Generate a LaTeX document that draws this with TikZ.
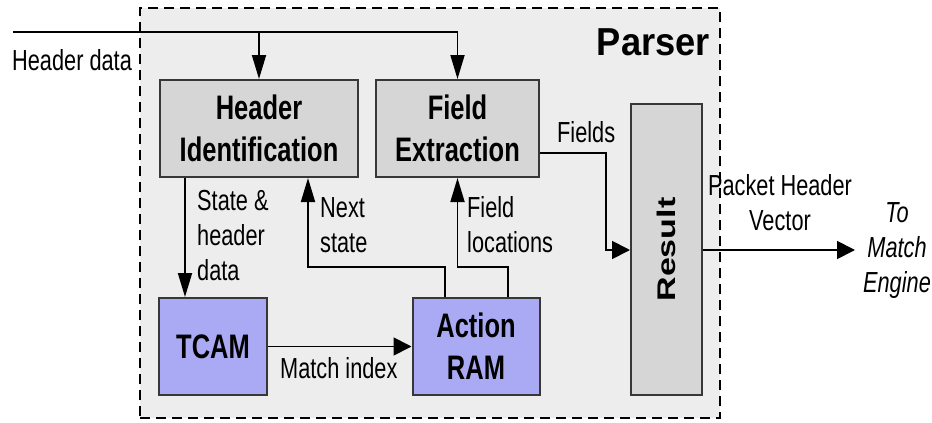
\documentclass[tikz,border=0pt]{standalone}
\usepackage{graphicx}
\usepackage{fontspec}
\setmainfont{Liberation Sans}[FakeStretch=0.75]
\newfontfamily\titlefont{Liberation Sans}[FakeStretch=0.93]
\newfontfamily\uprightfont{Liberation Sans}
\usetikzlibrary{arrows.meta}

\definecolor{parserbg}{RGB}{237,237,237}
\definecolor{unitgray}{RGB}{214,214,214}
\definecolor{unitblue}{RGB}{170,170,244}
\definecolor{edgegray}{RGB}{55,55,55}

\begin{document}
\begin{tikzpicture}[x=1pt,y=-1pt,
  unit/.style={draw=edgegray, line width=2pt, inner sep=0pt, align=center,
    font=\bfseries\fontsize{34}{42}\selectfont},
  grayunit/.style={unit, fill=unitgray},
  blueunit/.style={unit, fill=unitblue},
  wire/.style={line width=1.8pt, black},
  downarrow/.style={wire, -{Triangle[length=24pt,width=14pt]}},
  sidearrow/.style={wire, -{Triangle[length=18pt,width=18pt]}},
  lbl/.style={inner sep=0pt, align=left, font=\fontsize{29}{35}\selectfont},
]
\useasboundingbox (0,0) rectangle (932,423);

% parser region
\node[draw=black, fill=parserbg, line width=1.8pt, dash pattern=on 10pt off 6pt,
      minimum width=580pt, minimum height=410pt, inner sep=0pt] (parser) at (430,213) {};
\node[anchor=base east, inner sep=0pt,
      font=\titlefont\bfseries\fontsize{39}{45}\selectfont] (title) at (710,55) {Parser};

% processing units
\node[grayunit, minimum width=198pt, minimum height=97pt] (hid) at (259,128.5) {Header\\Identification};
\node[grayunit, minimum width=163pt, minimum height=97pt] (fex) at (457.5,128.5) {Field\\Extraction};
\node[grayunit, minimum width=71pt, minimum height=291pt] (res) at (666.5,249.5) {};
\node[rotate=90, inner sep=0pt] (reslabel) at (res.center)
     {\scalebox{1}[0.75]{\uprightfont\bfseries\fontsize{34}{40}\selectfont Result}};
\node[blueunit, minimum width=108pt, minimum height=97pt] (tcam) at (213,346.5) {TCAM};
\node[blueunit, minimum width=127pt, minimum height=97pt] (aram) at (476,346.5) {Action\\RAM};

% header data input
\coordinate (hdin) at (13,32);
\coordinate (hdturn) at (457.5,32);
\coordinate (hdtap) at (259,32);
\draw[downarrow] (hdin) -- (hdturn) -- (fex.north);
\draw[downarrow] (hdtap) -- (hid.north);
\node[lbl, anchor=base west] (hdlabel) at (12,70) {Header data};

% header identification to TCAM
\draw[downarrow] ([xshift=-74pt]hid.south) -- ([xshift=-74pt]hid.south |- tcam.north);
\node[lbl, anchor=base west] (stlabel) at (197,280) {State \&\\header\\data};

% TCAM to action RAM
\draw[sidearrow] (tcam.east) -- (aram.west);
\node[lbl, anchor=base west] (milabel) at (280,378) {Match index};

% action RAM feedback
\coordinate (nsturn) at (308,267);
\draw[downarrow] ([xshift=-31pt]aram.north) |- (nsturn) -- ([xshift=49pt]hid.south);
\node[lbl, anchor=base west] (nslabel) at (320,252) {Next\\state};

\coordinate (flturn) at (457.5,267);
\draw[downarrow] ([xshift=32pt]aram.north) |- (flturn) -- (fex.south);
\node[lbl, anchor=base west] (fllabel) at (467,252) {Field\\locations};

% fields into result
\coordinate (fdturn) at (606,250);
\draw[sidearrow] ([yshift=-24.5pt]fex.east) -| (fdturn) -- (res.west |- fdturn);
\node[lbl, anchor=base west] (fdlabel) at (557,142) {Fields};

% output
\coordinate (out) at (855,250);
\draw[sidearrow] (res.east |- out) -- (out);
\node[lbl, anchor=base, align=center] (phlabel) at (780,230) {Packet Header\\Vector};
\node[lbl, anchor=base, align=center, font=\itshape\fontsize{29}{35}\selectfont] (melabel) at (897,292) {To\\Match\\Engine};
\end{tikzpicture}
\end{document}
